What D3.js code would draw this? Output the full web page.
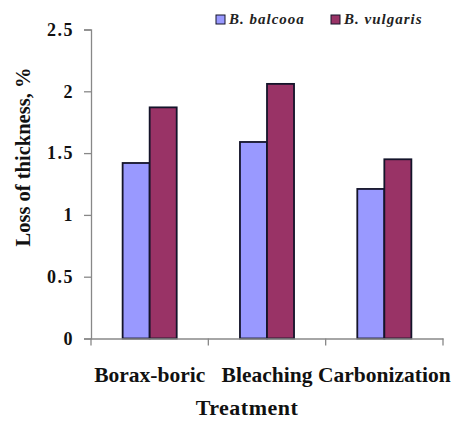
<!DOCTYPE html>
<html><head><meta charset="utf-8">
<script src="https://cdn.jsdelivr.net/npm/d3@7"></script>
<style>body{margin:0;background:#fff;} text{font-family:"Liberation Serif","Times New Roman",serif;font-weight:bold;}</style>
</head><body>
<svg id="c" width="454" height="421"></svg>
<script>
const categories = ["Borax-boric", "Bleaching", "Carbonization"];
const seriesNames = ["B. balcooa", "B. vulgaris"];
const balcooa = [1.42, 1.59, 1.21];
const vulgaris = [1.87, 2.06, 1.45];
const yTicks = [0, 0.5, 1, 1.5, 2, 2.5];
const colors = ["#9999FF", "#993366"];

(function () {
const svg = d3.select("#c");
const mLeft = 91, mRight = 443, mTop = 29.5, mBottom = 338.5;
const y = d3.scaleLinear().domain([0, 2.5]).range([mBottom, mTop]);
const x0 = d3.scaleBand().domain(categories).range([mLeft, mRight]).padding(0);
const x1 = d3.scaleBand().domain(seriesNames).range([0, x0.bandwidth()]).paddingInner(0).paddingOuter(1.17);
const seriesVals = [balcooa, vulgaris];

// bars
categories.forEach((c, i) => {
  seriesNames.forEach((s, j) => {
    svg.append("rect")
      .attr("x", x0(c) + x1(s))
      .attr("y", y(seriesVals[j][i]))
      .attr("width", x1.bandwidth())
      .attr("height", y(0) - y(seriesVals[j][i]))
      .attr("fill", colors[j])
      .attr("stroke", "#14142a")
      .attr("stroke-width", 1.8);
  });
});

// y axis
const yAxis = d3.axisLeft(y).tickValues(yTicks).tickFormat(d => d).tickSize(7).tickPadding(10);
const gy = svg.append("g").attr("transform", `translate(${mLeft},0)`).call(yAxis);
gy.select(".domain").attr("stroke", "#888").attr("stroke-width", 1.3);
gy.selectAll(".tick line").attr("stroke", "#888").attr("stroke-width", 1.3);
gy.selectAll(".tick text").attr("font-size", 18).attr("fill", "#111")
  .style("font-family", "Liberation Serif").style("font-weight", "bold").style("letter-spacing", "1.5px");

// x axis
const xAxis = d3.axisBottom(x0).tickSize(0).tickPadding(28);
const gx = svg.append("g").attr("transform", `translate(0,${mBottom})`).call(xAxis);
gx.select(".domain").attr("stroke", "#888").attr("stroke-width", 1.3);
gx.selectAll(".tick text").attr("font-size", 21.5).attr("fill", "#111")
  .style("font-family", "Liberation Serif").style("font-weight", "bold");
const bounds = categories.map(c => x0(c)).concat([mRight]);
gx.selectAll(".bnd").data(bounds).enter().append("line")
  .attr("x1", d => d).attr("x2", d => d).attr("y1", 0).attr("y2", 7)
  .attr("stroke", "#888").attr("stroke-width", 1.3);

// axis titles
svg.append("text").attr("x", 247).attr("y", 415).attr("text-anchor", "middle")
  .attr("font-size", 22).style("letter-spacing", "0.5px").attr("fill", "#111").text("Treatment");
svg.append("text").attr("transform", "translate(30,157) rotate(-90)").attr("text-anchor", "middle")
  .attr("font-size", 20.5).attr("fill", "#111").text("Loss of thickness, %");

// legend
const legX = [216, 331];
seriesNames.forEach((s, j) => {
  svg.append("rect").attr("x", legX[j]).attr("y", 15).attr("width", 9).attr("height", 9)
    .attr("fill", colors[j]).attr("stroke", "#14142a").attr("stroke-width", 1);
  svg.append("text").attr("x", legX[j] + 13).attr("y", 24).attr("font-size", 15)
    .attr("font-style", "italic").style("letter-spacing", "1px").attr("fill", "#222").text(s);
});
})();
</script>
</body></html>
